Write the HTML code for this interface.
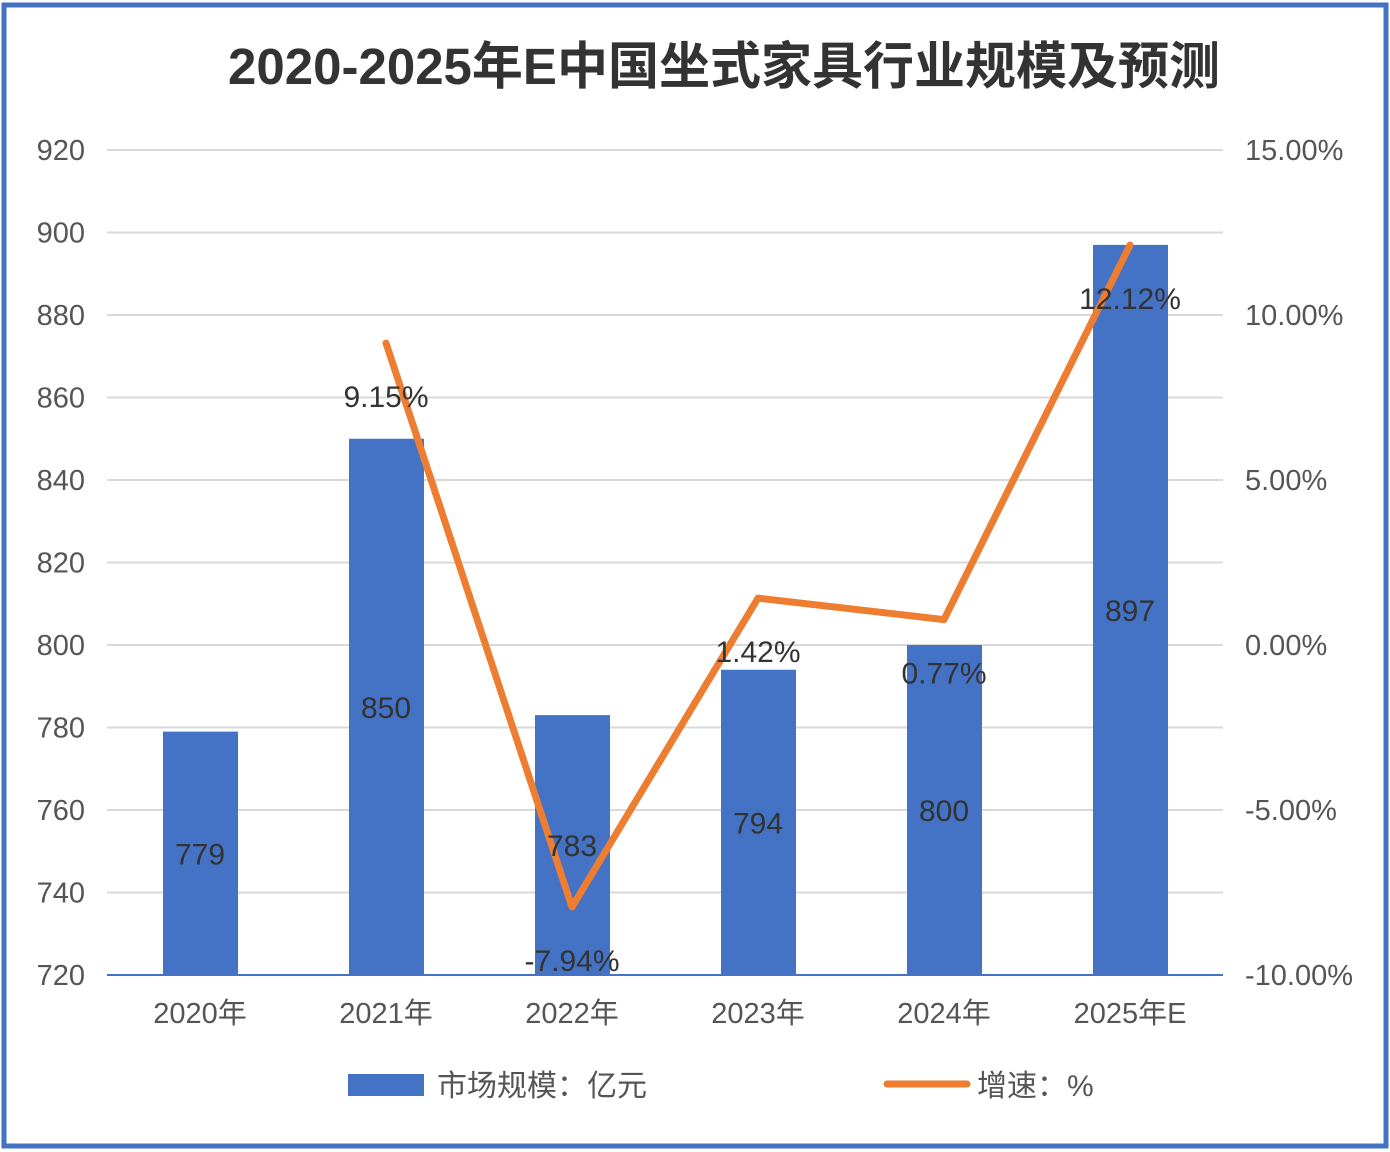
<!DOCTYPE html>
<html><head><meta charset="utf-8"><style>
body{margin:0;background:#fff;}
svg{display:block;font-family:"Liberation Sans","Noto Sans CJK SC",sans-serif;}
</style></head><body>
<svg id="chart" width="1390" height="1152" viewBox="0 0 1390 1152">
<rect x="4" y="5" width="1382" height="1141" fill="#fff" stroke="#4472c4" stroke-width="5"/>
<text x="724" y="84" text-anchor="middle" font-size="51" font-weight="bold" fill="#333">2020-2025年E中国坐式家具行业规模及预测</text>
<g id="grid"></g><g id="bars"></g><g id="line"></g><g id="labels"></g>
<g>
<rect x="348" y="1074" width="76" height="22" fill="#4472c4"/>
<text x="437" y="1096" font-size="30" fill="#555">市场规模：亿元</text>
<line x1="887" y1="1084" x2="967" y2="1084" stroke="#ed7d31" stroke-width="7" stroke-linecap="round"/>
<text x="977" y="1096" font-size="30" fill="#555">增速：%</text>
</g>
</svg>
<script>
const categories=["2020年","2021年","2022年","2023年","2024年","2025年E"];
const sizes=[779,850,783,794,800,897];
const growth=[null,9.15,-7.94,1.42,0.77,12.12];
const leftTicks=[720,740,760,780,800,820,840,860,880,900,920];
const rightTicks=[-10,-5,0,5,10,15];
const NS="http://www.w3.org/2000/svg";
const X0=107,X1=1223,YT=150,YB=975;
const yL=v=>YB-(v-720)/200*(YB-YT);
const yR=v=>YB-(v+10)/25*(YB-YT);
const bw=(X1-X0)/categories.length;
const xC=i=>X0+bw*(i+0.5);
function mk(tag,attrs,parent){const e=document.createElementNS(NS,tag);for(const k in attrs)e.setAttribute(k,attrs[k]);document.getElementById(parent).appendChild(e);return e;}
leftTicks.forEach(t=>{
 if(t>720){const g=mk('line',{x1:X0,x2:X1,y1:yL(t),y2:yL(t),stroke:'#d9d9d9','stroke-width':2},'grid');
 
 }
 const tx=mk('text',{x:85,y:yL(t)+10,'text-anchor':'end','font-size':29,fill:'#555'},'grid');tx.textContent=t;
 
 
});
rightTicks.forEach(t=>{
 const tx=mk('text',{x:1245,y:yR(t)+10,'font-size':29,fill:'#555'},'grid');tx.textContent=t.toFixed(2)+'%';
 
 
});
categories.forEach((c,i)=>{
 const b=mk('rect',{x:xC(i)-37,y:yL(sizes[i]),width:75,height:YB-yL(sizes[i]),fill:'#4472c4'},'bars');
 
 
 const l=mk('text',{x:xC(i),y:(yL(sizes[i])+YB)/2+11,'text-anchor':'middle','font-size':30,fill:'#333'},'labels');l.textContent=sizes[i];
 
 
 const cl=mk('text',{x:xC(i),y:1023,'text-anchor':'middle','font-size':29,fill:'#555'},'labels');cl.textContent=c;
 
 
});
const ax=mk('line',{x1:X0,x2:X1,y1:YB,y2:YB,stroke:'#4472c4','stroke-width':2},'bars');


let pts=[];
growth.forEach((g,i)=>{if(g===null)return;pts.push(xC(i)+','+yR(g));
 const l=mk('text',{x:xC(i),y:yR(g)+64,'text-anchor':'middle','font-size':30,fill:'#333'},'labels');l.textContent=g.toFixed(2)+'%';
 
 
});
const pl=mk('polyline',{points:pts.join(' '),fill:'none',stroke:'#ed7d31','stroke-width':7,'stroke-linejoin':'round','stroke-linecap':'round'},'line');


</script>
</body></html>
